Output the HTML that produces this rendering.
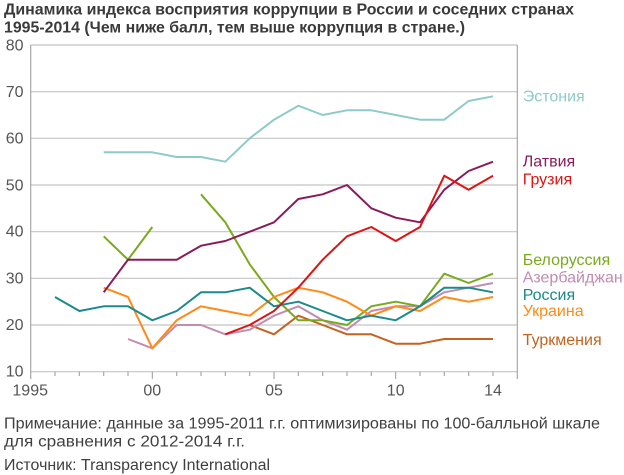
<!DOCTYPE html>
<html>
<head>
<meta charset="utf-8">
<style>
  html,body{margin:0;padding:0;background:#fff;}
  svg{display:block;}
  text{font-family:"Liberation Sans","DejaVu Sans",sans-serif;}
</style>
</head>
<body>
<svg width="624" height="475" viewBox="0 0 624 475" xmlns="http://www.w3.org/2000/svg">
  <!-- Title -->
  <text x="4" y="14.5" font-size="15.5" font-weight="bold" fill="#3a3a3a" textLength="570" lengthAdjust="spacingAndGlyphs">Динамика индекса восприятия коррупции в России и соседних странах</text>
  <text x="4" y="32.5" font-size="15.5" font-weight="bold" fill="#3a3a3a" textLength="461" lengthAdjust="spacingAndGlyphs">1995-2014 (Чем ниже балл, тем выше коррупция в стране.)</text>

  <!-- gridlines -->
  <g stroke="#c4c4c4" stroke-width="1.2" fill="none">
    <line x1="30.7" y1="45" x2="517.3" y2="45"/>
    <line x1="30.7" y1="91.7" x2="517.3" y2="91.7"/>
    <line x1="30.7" y1="138.3" x2="517.3" y2="138.3"/>
    <line x1="30.7" y1="185" x2="517.3" y2="185"/>
    <line x1="30.7" y1="231.7" x2="517.3" y2="231.7"/>
    <line x1="30.7" y1="278.3" x2="517.3" y2="278.3"/>
    <line x1="30.7" y1="325" x2="517.3" y2="325"/>
    <line x1="30.7" y1="371.7" x2="517.3" y2="371.7"/>
  </g>
  <!-- axes verticals and ticks -->
  <g stroke="#a8a8a8" stroke-width="1.2" fill="none">
    <line x1="30.7" y1="45" x2="30.7" y2="379"/>
    <line x1="517.3" y1="45" x2="517.3" y2="379"/>
    <line x1="152.35" y1="371.7" x2="152.35" y2="379"/>
    <line x1="274" y1="371.7" x2="274" y2="379"/>
    <line x1="395.65" y1="371.7" x2="395.65" y2="379"/>
    <line x1="55.03" y1="371.7" x2="55.03" y2="376"/>
    <line x1="79.36" y1="371.7" x2="79.36" y2="376"/>
    <line x1="103.69" y1="371.7" x2="103.69" y2="376"/>
    <line x1="128.02" y1="371.7" x2="128.02" y2="376"/>
    <line x1="176.68" y1="371.7" x2="176.68" y2="376"/>
    <line x1="201.01" y1="371.7" x2="201.01" y2="376"/>
    <line x1="225.34" y1="371.7" x2="225.34" y2="376"/>
    <line x1="249.67" y1="371.7" x2="249.67" y2="376"/>
    <line x1="298.33" y1="371.7" x2="298.33" y2="376"/>
    <line x1="322.66" y1="371.7" x2="322.66" y2="376"/>
    <line x1="346.99" y1="371.7" x2="346.99" y2="376"/>
    <line x1="371.32" y1="371.7" x2="371.32" y2="376"/>
    <line x1="419.98" y1="371.7" x2="419.98" y2="376"/>
    <line x1="444.31" y1="371.7" x2="444.31" y2="376"/>
    <line x1="468.64" y1="371.7" x2="468.64" y2="376"/>
    <line x1="492.97" y1="371.7" x2="492.97" y2="376"/>
  </g>

  <!-- Y labels -->
  <g font-size="16" fill="#555" text-anchor="end">
    <text x="23.5" y="50.5">80</text>
    <text x="23.5" y="97">70</text>
    <text x="23.5" y="143.5">60</text>
    <text x="23.5" y="190.3">50</text>
    <text x="23.5" y="236.5">40</text>
    <text x="23.5" y="283.3">30</text>
    <text x="23.5" y="330">20</text>
    <text x="23.5" y="376.5">10</text>
  </g>
  <!-- X labels -->
  <g font-size="16" fill="#555" text-anchor="middle">
    <text x="30.2" y="395.5">1995</text>
    <text x="152.3" y="395.5">00</text>
    <text x="274" y="395.5">05</text>
    <text x="395.7" y="395.5">10</text>
    <text x="493" y="395.5">14</text>
  </g>

  <!-- Series -->
  <g fill="none" stroke-width="2" stroke-linejoin="round" stroke-linecap="butt">
    <!-- Estonia -->
    <polyline stroke="#8ecaca" points="103.7,152.3 128,152.3 152.3,152.3 176.7,157 201,157 225.3,161.7 249.7,138.3 274,119.7 298.3,105.7 322.7,115 347,110.3 371.3,110.3 395.7,115 420,119.7 444.3,119.7 468.6,101 493,96.3"/>
    <!-- Turkmenistan -->
    <polyline stroke="#c4631f" points="249.7,325 274,334.3 298.3,315.7 322.7,325 347,334.3 371.3,334.3 395.7,343.7 420,343.7 444.3,339 468.6,339 493,339"/>
    <!-- Azerbaijan -->
    <polyline stroke="#c28bb2" points="128,339 152.3,348.3 176.7,325 201,325 225.3,334.3 249.7,329.7 274,315.7 298.3,306.3 322.7,320.3 347,329.7 371.3,311 395.7,306.3 420,306.3 444.3,292.3 468.6,287.7 493,283"/>
    <!-- Belarus -->
    <polyline stroke="#78aa1c" points="103.7,236.3 128,259.7 152.3,227"/>
    <polyline stroke="#78aa1c" points="201,194.3 225.3,222.3 249.7,264.3 274,297 298.3,320.3 322.7,320.3 347,325 371.3,306.3 395.7,301.7 420,306.3 444.3,273.7 468.6,283 493,273.7"/>
    <!-- Ukraine -->
    <polyline stroke="#ff8a16" points="103.7,287.7 128,297 152.3,348.3 176.7,320.3 201,306.3 225.3,311 249.7,315.7 274,297 298.3,287.7 322.7,292.3 347,301.7 371.3,315.7 395.7,306.3 420,311 444.3,297 468.6,301.7 493,297"/>
    <!-- Russia -->
    <polyline stroke="#1a8a8a" points="55,297 79.4,311 103.7,306.3 128,306.3 152.3,320.3 176.7,311 201,292.3 225.3,292.3 249.7,287.7 274,306.3 298.3,301.7 322.7,311 347,320.3 371.3,315.7 395.7,320.3 420,306.3 444.3,287.7 468.6,287.7 493,292.3"/>
    <!-- Latvia -->
    <polyline stroke="#8a1a5c" points="103.7,292.3 128,259.7 152.3,259.7 176.7,259.7 201,245.7 225.3,241 249.7,231.7 274,222.3 298.3,199 322.7,194.3 347,185 371.3,208.3 395.7,217.7 420,222.3 444.3,189.7 468.6,171 493,161.7"/>
    <!-- Georgia -->
    <polyline stroke="#dc1414" points="225.3,334.3 249.7,325 274,311 298.3,287.7 322.7,259.7 347,236.3 371.3,227 395.7,241 420,227 444.3,175.7 468.6,189.7 493,175.7"/>
  </g>

  <!-- Legend labels -->
  <g font-size="16">
    <text x="522.7" y="101.5" fill="#8ecaca">Эстония</text>
    <text x="522.7" y="166.5" fill="#8a1a5c">Латвия</text>
    <text x="522.7" y="184.5" fill="#dc1414">Грузия</text>
    <text x="522.7" y="265" fill="#78aa1c">Белоруссия</text>
    <text x="522.7" y="282.5" fill="#c28bb2">Азербайджан</text>
    <text x="522.7" y="300" fill="#1a8a8a">Россия</text>
    <text x="522.7" y="316" fill="#ff8a16">Украина</text>
    <text x="522.7" y="345" fill="#c4631f">Туркмения</text>
  </g>

  <!-- Footer -->
  <g font-size="15.5" fill="#404040">
    <text x="4" y="428.3" textLength="596" lengthAdjust="spacingAndGlyphs">Примечание: данные за 1995-2011 г.г. оптимизированы по 100-балльной шкале</text>
    <text x="4" y="446.7" textLength="241" lengthAdjust="spacingAndGlyphs">для сравнения с 2012-2014 г.г.</text>
    <text x="4" y="470" textLength="266" lengthAdjust="spacingAndGlyphs">Источник: Transparency International</text>
  </g>
</svg>
</body>
</html>
